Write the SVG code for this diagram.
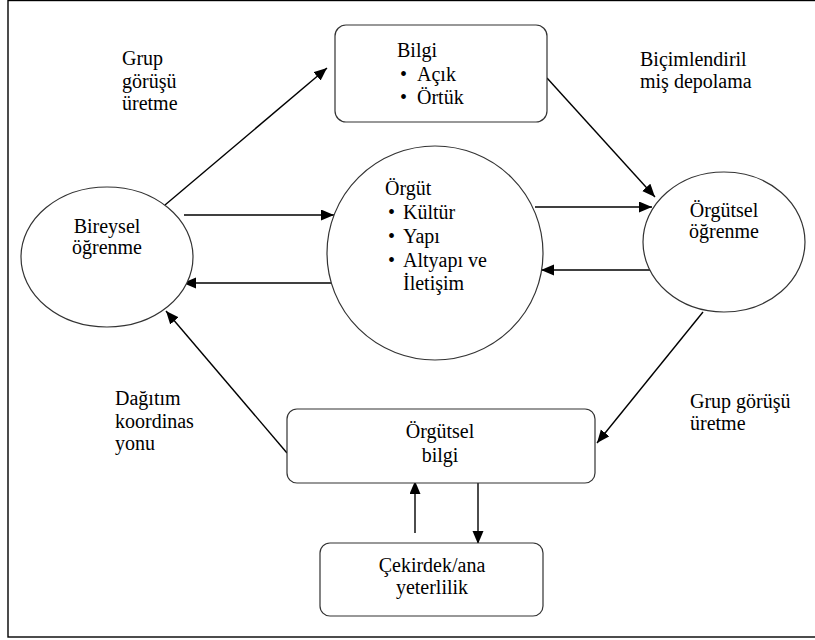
<svg xmlns="http://www.w3.org/2000/svg" width="815" height="640" viewBox="0 0 815 640">
<style>
text{font-family:'Liberation Serif','DejaVu Serif',serif;font-size:20px;fill:#000}
.shape{fill:#fff;stroke:#333;stroke-width:1.2}
.conn{stroke:#000;stroke-width:1.4;fill:none;marker-end:url(#ah)}
.mid{text-anchor:middle}
</style>
<defs>
<marker id="ah" markerUnits="userSpaceOnUse" markerWidth="14" markerHeight="12" refX="13" refY="5.5" orient="auto">
<path d="M0,0 L13,5.5 L0,11 z" fill="#000"/>
</marker>
</defs>
<rect x="8" y="0.5" width="830" height="636.5" fill="#fff" stroke="#000" stroke-width="1.4"/>
<g id="connectors">
<line class="conn" x1="165" y1="205" x2="327" y2="68"/>
<line class="conn" x1="547" y1="78" x2="655" y2="197"/>
<line class="conn" x1="184" y1="215" x2="334" y2="215"/>
<line class="conn" x1="335" y1="283" x2="183" y2="283"/>
<line class="conn" x1="535" y1="207" x2="652" y2="207"/>
<line class="conn" x1="654" y1="270" x2="541" y2="270"/>
<line class="conn" x1="703" y1="312" x2="597" y2="443"/>
<line class="conn" x1="287" y1="453" x2="166" y2="311"/>
<line class="conn" x1="415" y1="533" x2="415" y2="481"/>
<line class="conn" x1="478" y1="483" x2="478" y2="544"/>
</g>
<g id="bilgi">
<rect class="shape" x="335" y="25" width="212" height="97" rx="11"/>
<text x="397" y="57">Bilgi</text>
<text x="400" y="81">•</text><text x="417" y="81">Açık</text>
<text x="400" y="104">•</text><text x="417" y="104">Örtük</text>
</g>
<g id="bireysel">
<ellipse class="shape" cx="107" cy="257" rx="86" ry="70"/>
<text class="mid" x="107" y="233">Bireysel</text>
<text class="mid" x="107" y="254">öğrenme</text>
</g>
<g id="orgut">
<ellipse class="shape" cx="435" cy="253" rx="108" ry="107"/>
<text x="385" y="195">Örgüt</text>
<text x="388" y="219">•</text><text x="403" y="219">Kültür</text>
<text x="388" y="243">•</text><text x="403" y="243">Yapı</text>
<text x="388" y="267">•</text><text x="403" y="267">Altyapı ve</text>
<text x="403" y="290">İletişim</text>
</g>
<g id="orgutsel-ogrenme">
<ellipse class="shape" cx="724" cy="242" rx="81" ry="70"/>
<text class="mid" x="724" y="217">Örgütsel</text>
<text class="mid" x="724" y="238">öğrenme</text>
</g>
<g id="orgutsel-bilgi">
<rect class="shape" x="287" y="409" width="308" height="74" rx="10"/>
<text class="mid" x="440" y="438">Örgütsel</text>
<text class="mid" x="440" y="462">bilgi</text>
</g>
<g id="cekirdek">
<rect class="shape" x="320" y="543" width="223" height="73" rx="10"/>
<text class="mid" x="432" y="572">Çekirdek/ana</text>
<text class="mid" x="432" y="594">yeterlilik</text>
</g>
<g id="labels">
<text x="122" y="65">Grup</text>
<text x="122" y="88">görüşü</text>
<text x="122" y="110">üretme</text>
<text x="640" y="66">Biçimlendiril</text>
<text x="640" y="88">miş depolama</text>
<text x="690" y="408">Grup görüşü</text>
<text x="690" y="430">üretme</text>
<text x="115" y="405">Dağıtım</text>
<text x="115" y="428">koordinas</text>
<text x="115" y="450">yonu</text>
</g>
</svg>
